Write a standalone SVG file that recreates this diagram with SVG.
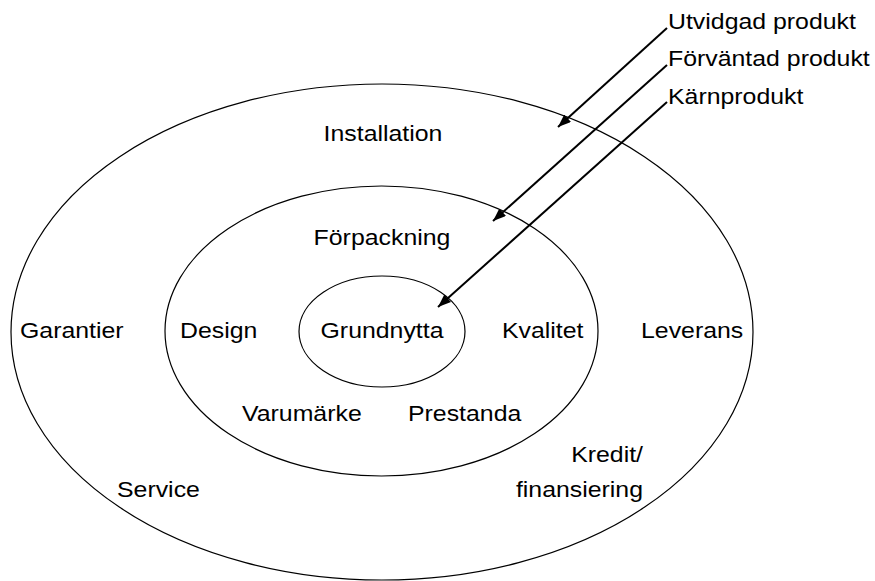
<svg xmlns="http://www.w3.org/2000/svg" width="875" height="581" viewBox="0 0 875 581">
  <style>
    .ring { fill: none; stroke: #000; stroke-width: 1.2; }
    .lbl { font-family: "Liberation Sans", Arial, sans-serif; font-size: 22px; fill: #000; }
    .mid { text-anchor: middle; }
    .end { text-anchor: end; }
    .arrow { stroke: #000; stroke-width: 2; fill: none; marker-end: url(#head); }
  </style>
  <defs>
    <marker id="head" markerUnits="userSpaceOnUse" markerWidth="14" markerHeight="12" refX="13" refY="5" orient="auto">
      <path d="M0,0 L13,5 L0,10 Z" fill="#000"/>
    </marker>
  </defs>
  <rect width="875" height="581" fill="#fff"/>

  <!-- concentric product levels -->
  <g id="utvidgad">
    <ellipse class="ring" cx="382" cy="332" rx="371" ry="248"/>
    <text class="lbl mid" transform="translate(383,141) scale(1.13,1)">Installation</text>
    <text class="lbl" transform="translate(20,338) scale(1.13,1)">Garantier</text>
    <text class="lbl" transform="translate(641,338) scale(1.13,1)">Leverans</text>
    <text class="lbl" transform="translate(117,497) scale(1.13,1)">Service</text>
    <text class="lbl end" transform="translate(643,462) scale(1.13,1)">Kredit/</text>
    <text class="lbl end" transform="translate(643,497) scale(1.13,1)">finansiering</text>
  </g>
  <g id="forvantad">
    <ellipse class="ring" cx="381.5" cy="331" rx="216.5" ry="145"/>
    <text class="lbl mid" transform="translate(382,245) scale(1.13,1)">Förpackning</text>
    <text class="lbl" transform="translate(180,338) scale(1.13,1)">Design</text>
    <text class="lbl" transform="translate(502,338) scale(1.13,1)">Kvalitet</text>
    <text class="lbl" transform="translate(242,421) scale(1.13,1)">Varumärke</text>
    <text class="lbl" transform="translate(408,421) scale(1.13,1)">Prestanda</text>
  </g>
  <g id="karna">
    <ellipse class="ring" cx="382" cy="331.5" rx="83" ry="55.5"/>
    <text class="lbl mid" transform="translate(382,338) scale(1.13,1)">Grundnytta</text>
  </g>

  <!-- level captions -->
  <g id="captions">
    <text class="lbl" transform="translate(668,29) scale(1.13,1)">Utvidgad produkt</text>
    <text class="lbl" transform="translate(668,66) scale(1.13,1)">Förväntad produkt</text>
    <text class="lbl" transform="translate(668,104) scale(1.13,1)">Kärnprodukt</text>
  </g>

  <!-- pointers from captions to rings -->
  <g id="connectors">
    <line class="arrow" x1="667" y1="28" x2="558" y2="127"/>
    <line class="arrow" x1="667" y1="65" x2="493" y2="221"/>
    <line class="arrow" x1="667" y1="102" x2="438" y2="307"/>
  </g>
</svg>
